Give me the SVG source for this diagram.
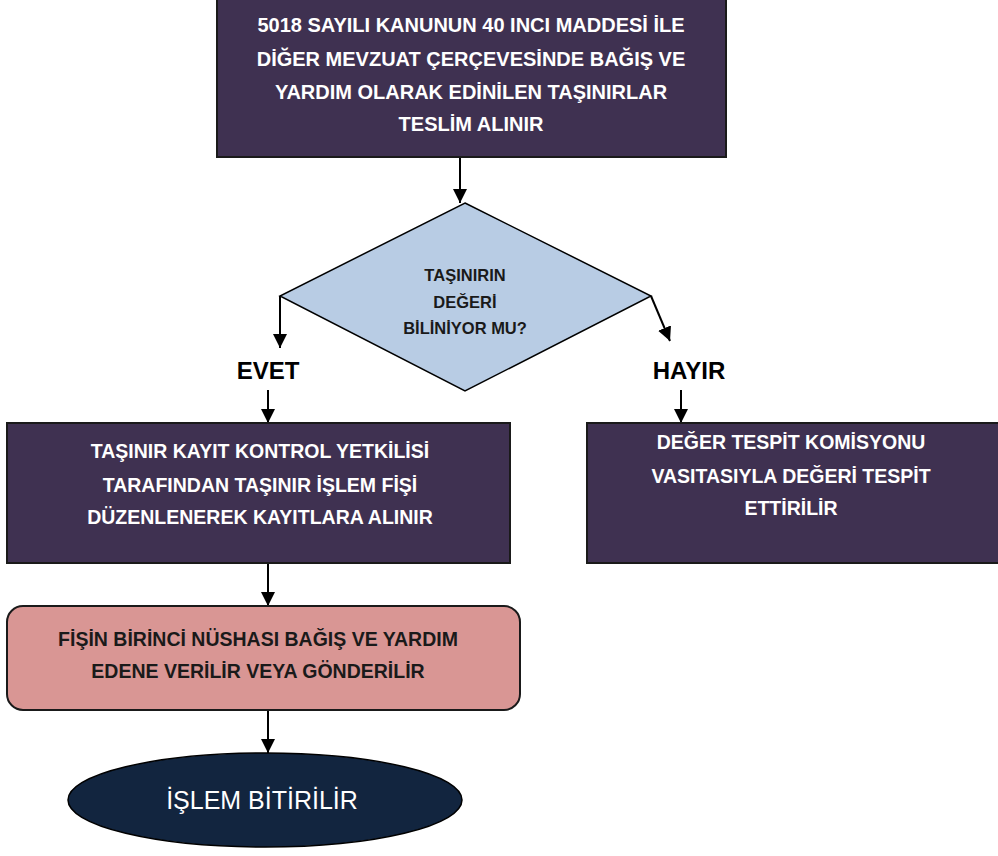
<svg xmlns="http://www.w3.org/2000/svg" width="998" height="856" viewBox="0 0 998 856">
<style>
.box{fill:#3F3151;stroke:#1a1a1a;stroke-width:2}
.wt{font-family:"Liberation Sans",Arial,sans-serif;font-weight:bold;font-size:19.5px;fill:#ffffff;text-anchor:middle}
.dt{font-family:"Liberation Sans",Arial,sans-serif;font-weight:bold;font-size:16.5px;fill:#1a1a1a;text-anchor:middle}
.lbl{font-family:"Liberation Sans",Arial,sans-serif;font-weight:bold;font-size:24px;fill:#000;text-anchor:middle}
.con{stroke:#000;stroke-width:2;fill:none;marker-end:url(#ah)}
</style>
<defs>
<marker id="ah" viewBox="0 0 10 10" refX="10" refY="5" markerWidth="14" markerHeight="14" markerUnits="userSpaceOnUse" orient="auto">
<path d="M0,0 L10,5 L0,10 z" fill="#000"/>
</marker>
</defs>
<rect width="998" height="856" fill="#ffffff"/>
<g id="connectors">
<line class="con" x1="460" y1="158" x2="460" y2="203"/>
<line class="con" x1="280" y1="296" x2="280" y2="348"/>
<line class="con" x1="651" y1="296" x2="670" y2="341"/>
<line class="con" x1="268" y1="390" x2="268" y2="423"/>
<line class="con" x1="681" y1="390" x2="681" y2="423"/>
<line class="con" x1="268" y1="563" x2="268" y2="606"/>
<line class="con" x1="268" y1="710" x2="268" y2="753"/>
</g>
<g id="start">
<rect class="box" x="217" y="-1" width="509" height="158"/>
<text class="wt" x="471" y="32" style="font-size:20px">5018 SAYILI KANUNUN 40 INCI MADDESİ İLE</text>
<text class="wt" x="471" y="66" style="font-size:20px">DİĞER MEVZUAT ÇERÇEVESİNDE BAĞIŞ VE</text>
<text class="wt" x="471" y="99" style="font-size:20px">YARDIM OLARAK EDİNİLEN TAŞINIRLAR</text>
<text class="wt" x="471" y="131" style="font-size:20px">TESLİM ALINIR</text>
</g>
<g id="decision">
<polygon points="465,203 651,296 465,391 280,296" fill="#B8CCE4" stroke="#000" stroke-width="1.5"/>
<text class="dt" x="465" y="281">TAŞINIRIN</text>
<text class="dt" x="465" y="308">DEĞERİ</text>
<text class="dt" x="465" y="334">BİLİNİYOR MU?</text>
</g>
<g id="evet">
<text class="lbl" x="268" y="379">EVET</text>
</g>
<g id="hayir">
<text class="lbl" x="689" y="379">HAYIR</text>
</g>
<g id="kayit">
<rect class="box" x="7" y="423" width="503" height="140"/>
<text class="wt" x="260" y="458">TAŞINIR KAYIT KONTROL YETKİLİSİ</text>
<text class="wt" x="260" y="492">TARAFINDAN TAŞINIR İŞLEM FİŞİ</text>
<text class="wt" x="260" y="524">DÜZENLENEREK KAYITLARA ALINIR</text>
</g>
<g id="tespit">
<rect class="box" x="587" y="423" width="412" height="140"/>
<text class="wt" x="791" y="449">DEĞER TESPİT KOMİSYONU</text>
<text class="wt" x="791" y="483">VASITASIYLA DEĞERİ TESPİT</text>
<text class="wt" x="791" y="515">ETTİRİLİR</text>
</g>
<g id="fis">
<rect x="7" y="606" width="513" height="104" rx="16" ry="16" fill="#D99694" stroke="#1a1a1a" stroke-width="2"/>
<text class="wt" x="258" y="646" style="fill:#1a1a1a">FİŞİN BİRİNCİ NÜSHASI BAĞIŞ VE YARDIM</text>
<text class="wt" x="258" y="678" style="fill:#1a1a1a">EDENE VERİLİR VEYA GÖNDERİLİR</text>
</g>
<g id="end">
<ellipse cx="265" cy="800" rx="197" ry="47" fill="#12253F" stroke="#000" stroke-width="1.5"/>
<text x="262" y="809" font-family="'Liberation Sans',Arial,sans-serif" font-size="25" fill="#ffffff" text-anchor="middle">İŞLEM BİTİRİLİR</text>
</g>
</svg>
